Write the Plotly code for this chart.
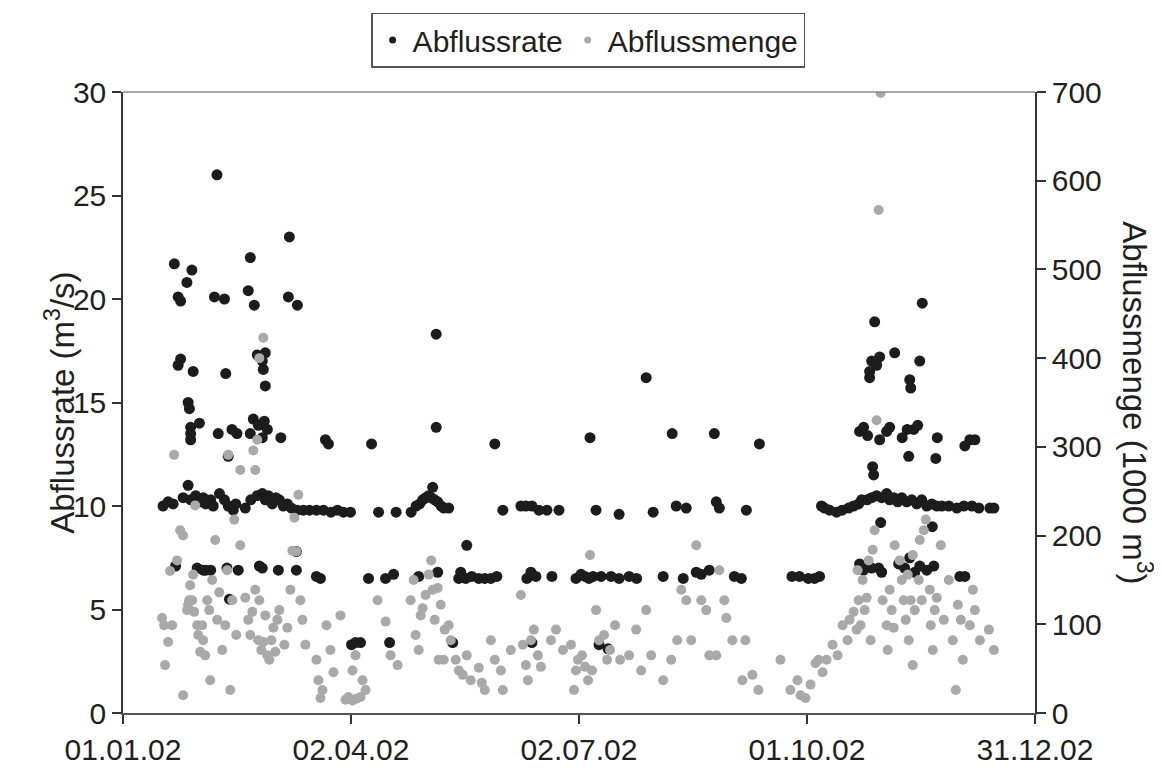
import pandas as pd
import plotly.graph_objects as go

# ---------------- data ----------------
# Abflussrate (m3/s): day offset from 01.01.2002, value
rate_day = [
    16, 18, 20, 20.5, 22, 23, 23, 22, 21, 24, 25.5, 27.5, 28, 26, 26.5, 27, 27, 27, 30.5, 26, 27, 29, 31, 32, 33,
    29.6, 32, 33, 35, 35, 36, 37.5, 36.5, 40.5, 41, 38, 38.5, 40.5, 42, 43.5, 45.5, 42, 41.5, 42.5, 44, 45, 46,
    50.8, 50, 52.4, 53.6, 55.6, 56.8, 56, 56.8, 52, 56.4, 54, 50.8, 55.6, 57.6, 63, 66.4, 66, 69.6,
    48.8, 51, 53.6, 55.6, 56.8, 58, 59.6, 61, 62.4, 64, 65.6, 67.2, 69.6, 72, 74.4,
    54.4, 55.6, 62, 69.2, 69.2,
    80.8, 82, 99.2,
    77.2, 80, 83, 85.6, 88, 90.8, 102, 109, 115, 117, 118.4, 119.6, 120.8, 122, 123, 124.4, 125.6, 127, 128,
    123.6, 125, 125,
    77.2, 78.8, 98, 104.8, 108, 118, 125.6,
    91.2, 92.8, 94.8, 106.4,
    131.6, 137.2, 148.4,
    130, 151.6, 158.8, 160.8, 163.2, 166, 169.2, 174,
    134, 134.8, 136.8, 139.2, 142, 144.4, 146.8, 149.2, 161.2, 162.8, 164.8, 171.2,
    163.2,
    186.4, 208.8, 219.2, 236, 254,
    188.8, 198, 211.6, 220.8, 224.8, 236.8, 238, 248.8,
    180.8, 182.8, 184.4, 186, 187.6, 190.8, 194.8, 198, 202, 205, 215.6, 223.6, 228.8, 230.8, 234, 244,
    246.8, 267, 270, 273.5, 276, 278,
    190, 193.6,
    278.8, 280, 282, 284.8, 287, 289.6, 291.6, 293.6, 294.8, 297, 298.8, 300.8, 302.8, 304.8, 306, 307.6,
    309.2, 310.8, 312.8, 314.8, 316.8, 318.8, 320.8, 322.8, 324.8, 326.8, 329.6, 332.8, 335.6, 338.8,
    341.6, 346, 347.6,
    300, 298.8, 302, 308, 300.8, 298, 298, 319, 318, 314, 314.4,
    294, 295.6, 297.2, 304.8, 306, 311, 313, 315.6, 317.2, 313.6, 299.2, 299.6, 302, 302.4, 323, 324.4,
    325, 336, 338, 340,
    294, 295.6, 297.2, 298.8, 301.6, 302.8, 309.6, 312, 314, 316, 318, 320.8, 323.6, 334, 336,
]
rate_val = [
    10.0, 10.2, 10.1, 21.7, 20.1, 19.9, 17.1, 16.8, 7.1, 10.4, 20.8, 21.4, 16.5, 15.0, 14.7, 13.8, 13.5, 13.2, 14.0, 11.0, 10.3, 10.5, 10.2, 10.4, 10.1,
    7.0, 6.9, 6.9, 6.9, 10.3, 10.0, 26.0, 20.1, 20.0, 16.4, 13.5, 10.6, 10.3, 10.0, 13.7, 13.5, 12.4, 7.0, 5.5, 9.8, 10.1, 6.9,
    22.0, 20.4, 19.7, 17.3, 17.0, 17.4, 16.6, 15.8, 14.2, 14.1, 13.9, 13.5, 13.3, 13.7, 13.3, 23.0, 20.1, 19.7,
    9.9, 10.3, 10.5, 10.6, 10.3, 10.5, 10.1, 10.4, 10.3, 10.0, 10.1, 9.9, 9.8, 9.8, 9.8,
    7.1, 7.0, 6.9, 7.8, 6.9,
    13.2, 13.0, 13.0,
    9.8, 9.8, 9.7, 9.8, 9.7, 9.7, 9.7, 9.7, 9.7, 10.0, 10.1, 10.3, 10.4, 10.5, 10.4, 10.3, 10.2, 10.0, 9.9,
    10.9, 13.8, 18.3,
    6.6, 6.5, 6.5, 6.5, 6.7, 6.6, 6.8,
    3.3, 3.4, 3.4, 3.4,
    3.4, 8.1, 13.0,
    9.9, 9.8, 10.0, 10.0, 10.0, 9.8, 9.8, 9.8,
    6.5, 6.8, 6.5, 6.6, 6.5, 6.5, 6.5, 6.6, 6.5, 6.8, 6.6, 6.6,
    3.4,
    13.3, 16.2, 13.5, 13.5, 13.0,
    9.8, 9.6, 9.7, 10.0, 9.9, 10.2, 9.9, 9.8,
    6.5, 6.7, 6.6, 6.5, 6.6, 6.6, 6.6, 6.5, 6.6, 6.5, 6.6, 6.5, 6.8, 6.7, 6.9, 6.6,
    6.5, 6.6, 6.6, 6.5, 6.5, 6.6,
    3.3, 3.1,
    10.0, 9.9, 9.8, 9.7, 9.8, 9.9, 10.0, 10.1, 10.3, 10.3, 10.4, 10.5, 10.4, 10.6, 10.3, 10.4,
    10.2, 10.4, 10.2, 10.3, 10.1, 10.3, 10.0, 10.1, 10.0, 10.0, 10.0, 9.9, 10.0, 10.0,
    9.9, 9.9, 9.9,
    18.9, 17.0, 17.2, 17.4, 16.8, 16.5, 16.2, 19.8, 17.0, 16.1, 15.7,
    13.6, 13.8, 13.4, 13.6, 13.8, 13.3, 13.7, 13.7, 13.9, 12.4, 11.9, 11.5, 13.2, 9.2, 9.0, 12.3,
    13.3, 12.9, 13.2, 13.2,
    7.2, 6.9, 7.2, 7.0, 7.0, 6.8, 7.2, 7.0, 7.5, 6.8, 7.1, 6.9, 7.1, 6.6, 6.6,
]

# Abflussmenge (1000 m3): day offset from 01.01.2002, value
menge_day = [
    15.6, 16.4, 16.8, 18, 18.8, 19.6, 20.4, 21.6, 22.8, 24, 25.6, 26, 26.8, 27.6, 28.4, 28.8, 29.6, 30,
    30.8, 31.6, 32, 32.8, 33.6, 34.4, 34.8, 35.6, 36.8, 37.6, 38.4, 39.6, 40.8, 41.6, 42, 42.8, 43.6, 44.4,
    45.2, 46.8, 46.8, 24, 26.4, 28,
    48.8, 50, 50.8, 51.6, 52, 52.8, 53.6, 54.4, 52.8, 56, 54, 54.4, 55.2, 56, 56.8, 57.6, 58.4, 59.2,
    60, 60.8, 61.6, 62.4, 64.4, 65.6, 66.8, 67.6, 68.4, 69.2, 70, 70.8, 71.6, 72.8,
    77.2, 78, 78.8, 79.6, 81.2, 82.8, 84, 86.8, 88.8, 90, 91.6, 93.2, 94.8, 91.6, 92.8, 95.6, 96.8,
    101.6, 104.8, 106.8, 109.6, 114.8, 116, 116.8, 118, 118.8, 119.6, 120.8, 122, 123, 123.6, 124.4,
    125.6, 126.8, 128, 126, 128.4,
    130, 130.8, 132.8, 134, 135.6, 137.2, 138.8, 142, 143.2, 144.4, 146.8, 148.4, 150.8, 151.6, 154.8,
    158.8, 159.6, 160.8, 161.6, 162.8, 164, 165.6, 166.8, 170.8, 172.8, 175.6, 178.8, 180, 180.8,
    181.6, 183.2, 184.4, 185.6, 186.4, 187.2, 188.8, 190, 192, 193.2, 194.4, 196.4, 198.4, 202, 204.8,
    206.8, 208.8, 210.8, 215.6, 218.8, 221.2, 222.8, 224.8, 226.8, 228.8, 230.8, 232.8, 234, 236.8,
    238, 240, 240.8, 243.2, 247.2, 248.4, 251.2, 253.6, 262.4, 266.4, 269.2, 270.4, 272.4, 274.4,
    276.4, 277.6, 279.2, 280.8, 283.2, 285.2, 287.2, 289.2, 290, 291.6, 292.8, 293.2, 293.6, 294.4,
    295.2, 296, 296.8, 297.6, 298.4, 299.2, 300, 300.8, 301.6, 302.4, 303.2, 304.8, 305.2, 306, 306.8,
    307.6, 308, 310, 310.8, 311.6, 312.4, 313.2, 313.6, 314.4, 315.2, 316, 317.6, 318, 318.8, 319.6,
    320.4, 322, 322.4, 323.2, 324, 324.8, 326.4, 327.6, 329.6, 331.2, 332.4, 333.2, 334.4, 335.2,
    338, 339.2, 340, 342, 345.6, 347.6, 315.2,
]
menge_val = [
    107, 99, 54, 80, 160, 99, 291, 172, 206, 200, 116, 122, 144, 127, 114, 234, 99, 88,
    69, 99, 82, 65, 127, 116, 37, 150, 195, 105, 136, 71, 99, 161, 291, 26, 127, 218, 88,
    189, 274, 20, 127, 156,
    130, 105, 88, 114, 296, 274, 308, 400, 139, 423, 82, 127, 71, 80, 110, 65, 60, 82,
    96, 69, 105, 116, 77, 96, 139, 183, 220, 182, 246, 127, 105, 77,
    60, 37, 17, 26, 99, 71, 46, 110, 15, 18, 14, 16, 18, 48, 65, 37, 26,
    127, 103, 65, 54, 127, 150, 88, 71, 110, 118, 133, 156, 172, 139, 105,
    141, 122, 60, 60, 94,
    99, 82, 60, 48, 43, 65, 37, 51, 34, 26, 82, 60, 48, 26, 71,
    133, 77, 54, 37, 82, 94, 65, 52, 82, 94, 71, 77, 26, 48,
    60, 65, 52, 37, 178, 48, 116, 82, 88, 60, 71, 99, 60, 65, 94,
    48, 116, 65, 37, 60, 82, 139, 127, 82, 189, 127, 116, 65, 65,
    161, 127, 107, 82, 37, 82, 43, 26, 60, 26, 37, 20, 17, 32,
    56, 60, 46, 60, 77, 65, 99, 82, 105, 114, 94, 161, 127, 99,
    150, 116, 130, 172, 82, 184, 206, 330, 567, 699, 127, 99, 71, 139, 116,
    96, 189, 172, 150, 127, 105, 156, 82, 127, 178, 116, 150, 195, 127, 206,
    218, 139, 99, 71, 116, 130, 189, 105, 150, 82, 26, 122, 105, 60,
    99, 139, 116, 82, 94, 71, 54, 121, 60, 161, 46, 118, 313,
]

x_start = "2002-01-01"
x_end = "2002-12-31"
tick_dates = ["2002-01-01", "2002-04-02", "2002-07-02", "2002-10-01", "2002-12-31"]
tick_text = ["01.01.02", "02.04.02", "02.07.02", "01.10.02", "31.12.02"]
rate_ticks = [0, 5, 10, 15, 20, 25, 30]
menge_ticks = [0, 100, 200, 300, 400, 500, 600, 700]

# ---------------- figure ----------------
base = pd.Timestamp(x_start)
rate_x = base + pd.to_timedelta(rate_day, unit="D")
menge_x = base + pd.to_timedelta(menge_day, unit="D")

FONT = "Liberation Sans, Arial, sans-serif"
TXT = "#231f20"
BLACK = "#1c1c1c"
GREY = "#a9a9a9"
TICKFONT = dict(family=FONT, size=30, color=TXT)

fig = go.Figure()
fig.add_trace(go.Scatter(
    x=rate_x, y=rate_val, mode="markers", name="Abflussrate", showlegend=False,
    marker=dict(color=BLACK, size=11, line=dict(width=0)), yaxis="y",
))
fig.add_trace(go.Scatter(
    x=menge_x, y=menge_val, mode="markers", name="Abflussmenge", showlegend=False,
    marker=dict(color=GREY, size=10, line=dict(width=0)), yaxis="y2",
))
# legend entries (small symbols, as in the original)
fig.add_trace(go.Scatter(x=[None], y=[None], mode="markers", name="Abflussrate",
                         marker=dict(color=BLACK, size=7)))
fig.add_trace(go.Scatter(x=[None], y=[None], mode="markers", name="Abflussmenge",
                         marker=dict(color=GREY, size=7)))

fig.update_layout(
    width=1154, height=768,
    margin=dict(l=115, r=127, t=84, b=63, autoexpand=False),
    paper_bgcolor="white", plot_bgcolor="white",
    font=dict(family=FONT, size=30, color=TXT),
    showlegend=True,
    legend=dict(
        orientation="h", x=0.51, xanchor="center",
        yref="container", y=0.994, yanchor="top",
        bordercolor="#555555", borderwidth=1.5, bgcolor="white",
        font=dict(family=FONT, size=30, color=TXT),
        itemwidth=30, tracegroupgap=0,
    ),
    xaxis=dict(
        type="date", range=[x_start, x_end],
        tickvals=tick_dates, ticktext=tick_text,
        ticks="outside", ticklen=9, tickwidth=1.5, tickcolor="#333333",
        showline=True, linecolor="#555555", linewidth=2,
        mirror=False, showgrid=False, zeroline=False,
        tickfont=TICKFONT,
    ),
    yaxis=dict(
        range=[0, 30], tickvals=rate_ticks,
        ticks="outside", ticklen=9, tickwidth=1.5, tickcolor="#333333",
        showline=True, linecolor="#333333", linewidth=1.5,
        showgrid=False, zeroline=False,
        tickfont=TICKFONT,
    ),
    yaxis2=dict(
        range=[0, 700], tickvals=menge_ticks, overlaying="y", side="right",
        ticks="outside", ticklen=9, tickwidth=1.5, tickcolor="#333333",
        showline=True, linecolor="#333333", linewidth=1.5,
        showgrid=False, zeroline=False,
        tickfont=TICKFONT,
    ),
    shapes=[dict(type="line", xref="paper", yref="paper", x0=0, x1=1, y0=1, y1=1,
                 line=dict(color="#888888", width=1.5))],
    annotations=[
        dict(text="Abflussrate (m<sup>3</sup>/s)", xref="paper", yref="paper",
             x=-0.07, y=0.5, xanchor="center", yanchor="middle", textangle=-90,
             showarrow=False, font=dict(family=FONT, size=33, color=TXT)),
        dict(text="Abflussmenge (1000 m<sup>3</sup>)", xref="paper", yref="paper",
             x=1.112, y=0.5, xanchor="center", yanchor="middle", textangle=90,
             showarrow=False, font=dict(family=FONT, size=33, color=TXT)),
    ],
)

fig.write_html("out.html")
